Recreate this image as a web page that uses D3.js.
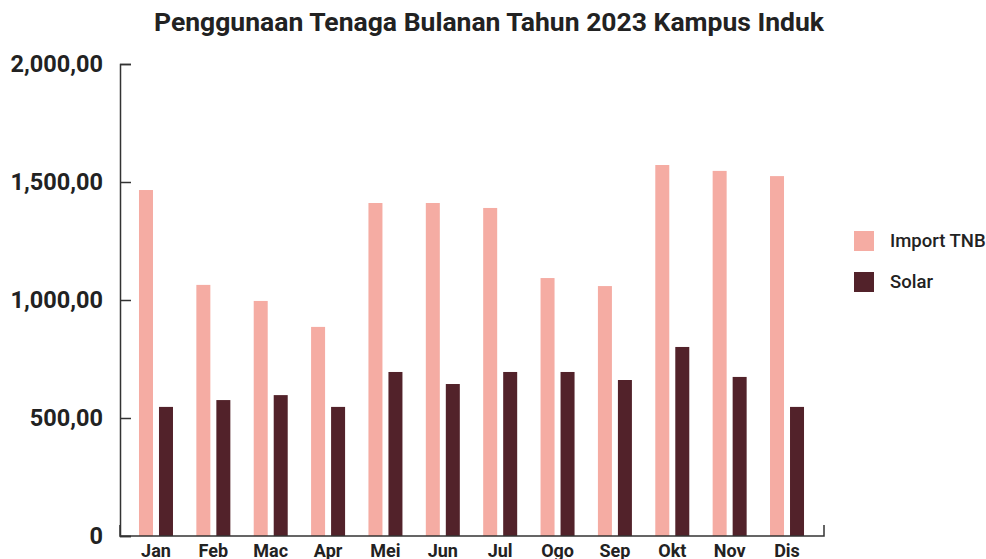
<!DOCTYPE html>
<html>
<head>
<meta charset="utf-8">
<script src="https://cdn.jsdelivr.net/npm/d3@7/dist/d3.min.js"></script>
<style>
  html, body { margin: 0; padding: 0; background: #fff; }
  svg { display: block; font-family: Roboto, "Noto Sans", sans-serif; }
</style>
</head>
<body>
<svg id="chart" width="986" height="559"></svg>
<script>
// Monthly energy use, 2023
const months = ["Jan", "Feb", "Mac", "Apr", "Mei", "Jun", "Jul", "Ogo", "Sep", "Okt", "Nov", "Dis"];
const importTNB = [1466, 1064, 996, 886, 1411, 1411, 1390, 1093, 1059, 1572, 1547, 1525];
const solar = [547, 576, 597, 547, 695, 644, 695, 695, 661, 801, 674, 547];
const seriesNames = ["Import TNB", "Solar"];
const seriesColors = ["#f5aca3", "#52222a"];
const yTicks = [0, 500, 1000, 1500, 2000];

const svg = d3.select("#chart");

const x = d3.scaleBand().domain(months).range([127.3, 815.7]).padding(0);
const xSub = d3.scaleBand().domain(seriesNames).range([x.bandwidth() / 2 - 17, x.bandwidth() / 2 + 17]).paddingInner(0.3);
const y = d3.scaleLinear().domain([0, 2000]).range([536, 64]);

const fmt = d => d === 0 ? "0" : d3.format(",.2f")(d).replace(/\.(\d+)$/, ",$1");

// Title
svg.append("text")
  .attr("x", 489).attr("y", 31)
  .attr("text-anchor", "middle")
  .attr("font-size", 26.5).attr("font-weight", 700)
  .attr("fill", "#222")
  .text("Penggunaan Tenaga Bulanan Tahun 2023 Kampus Induk");

// Bars
const rows = months.map((m, i) => ({ month: m, values: [importTNB[i], solar[i]] }));
const groups = svg.append("g").selectAll("g").data(rows).join("g")
  .attr("transform", d => `translate(${x(d.month)},0)`);
groups.selectAll("rect")
  .data(d => d.values.map((v, j) => ({ name: seriesNames[j], value: v, color: seriesColors[j] })))
  .join("rect")
  .attr("x", d => xSub(d.name))
  .attr("width", xSub.bandwidth())
  .attr("y", d => y(d.value))
  .attr("height", d => y(0) - y(d.value))
  .attr("fill", d => d.color);

// Y axis
const yAxis = svg.append("g").attr("transform", "translate(120,0)")
  .call(d3.axisLeft(y).tickValues(yTicks).tickFormat(fmt).tickSizeInner(-11).tickSizeOuter(-11).tickPadding(17));
yAxis.selectAll("path, line").attr("stroke", "#333").attr("stroke-width", 1.5);
yAxis.selectAll("text").attr("font-size", 23.5).attr("font-weight", 700).attr("fill", "#222")
  .attr("font-family", "Roboto, sans-serif");

// X axis
const xAxis = svg.append("g").attr("transform", "translate(0,536)")
  .call(d3.axisBottom(x).tickSizeInner(0).tickSizeOuter(-11).tickPadding(8));
xAxis.select(".domain").attr("d", `M120,-11V0H824V-11`).attr("stroke", "#333").attr("stroke-width", 1.5);
xAxis.selectAll("text").attr("font-size", 18).attr("font-weight", 700).attr("fill", "#222")
  .attr("font-family", "Roboto, sans-serif");

// Legend
const legend = svg.append("g").attr("transform", "translate(854,231)")
  .selectAll("g").data(seriesNames).join("g")
  .attr("transform", (d, i) => `translate(0,${i * 41})`);
legend.append("rect").attr("width", 20).attr("height", 20).attr("fill", (d, i) => seriesColors[i]);
legend.append("text").attr("x", 36).attr("y", 10).attr("dy", "0.35em")
  .attr("font-size", 18.5).attr("font-weight", 500).attr("fill", "#222")
  .text(d => d);
</script>
</body>
</html>
